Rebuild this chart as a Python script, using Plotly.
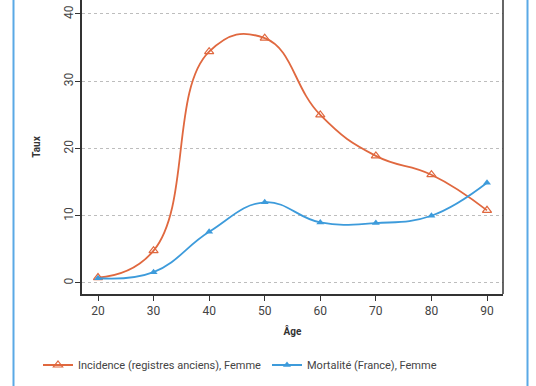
import plotly.graph_objects as go

ages = [20, 30, 40, 50, 60, 70, 80, 90]
incidence = [0.8, 4.8, 34.4, 36.4, 25.0, 18.9, 16.1, 10.8]
mortalite = [0.7, 1.6, 7.6, 12.0, 9.0, 8.9, 10.0, 14.9]
x_ticks = [20, 30, 40, 50, 60, 70, 80, 90]
y_ticks = [0, 10, 20, 30, 40]

ORANGE = "#E0683F"
BLUE = "#3D9BDB"
FONT = "Roboto"

W, H = 536, 386
L, R, B = 82, 33, 92
PW, PH = W - L - R, H - B

fig = go.Figure()
fig.add_trace(go.Scatter(
    x=ages, y=incidence, mode="lines+markers",
    name="Incidence (registres anciens), Femme", legend="legend",
    line=dict(color=ORANGE, width=1.8, shape="spline", smoothing=1.3),
    marker=dict(symbol="triangle-up-open", size=8, color=ORANGE, line=dict(width=1.2)),
))
fig.add_trace(go.Scatter(
    x=ages, y=mortalite, mode="lines+markers",
    name="Mortalité (France), Femme", legend="legend2",
    line=dict(color=BLUE, width=1.8, shape="spline", smoothing=1.2),
    marker=dict(symbol="triangle-up", size=7, color=BLUE),
))

leg_common = dict(orientation="h", yanchor="middle", y=-(365 - PH) / PH, xanchor="left",
                  font=dict(size=11, color="#444444"), bgcolor="rgba(0,0,0,0)")

fig.update_layout(
    width=W, height=H,
    margin=dict(l=L, r=R, t=0, b=B, autoexpand=False),
    paper_bgcolor="white", plot_bgcolor="white",
    font=dict(family=FONT, color="#333333", size=11),
    showlegend=True,
    legend=dict(x=(38 - L) / PW, **leg_common),
    legend2=dict(x=(267 - L) / PW, **leg_common),
    xaxis=dict(range=[17.12, 92.88], tickvals=x_ticks, ticks="outside", ticklen=5,
               tickcolor="#333333", showline=True, linecolor="#333333", linewidth=1.5,
               showgrid=False, zeroline=False, tickfont=dict(size=12, color="#444444"),
               title=dict(text="<b>Âge</b>", font=dict(size=10, color="#333333"), standoff=11)),
    yaxis=dict(range=[-1.64, 42.08], tickvals=y_ticks, ticks="outside", ticklen=5,
               tickcolor="#333333", showline=True, linecolor="#333333", linewidth=1.5,
               showgrid=True, gridcolor="#BDBDBD", griddash="3px,3px", gridwidth=1,
               zeroline=False, tickangle=-90, tickfont=dict(size=12, color="#444444"),
               ticklabeloverflow="allow", ticklabelstandoff=-3,
               title=dict(text="<b>Taux</b>", font=dict(size=10, color="#333333"), standoff=20)),
)

# right frame line (top of box is out of view)
fig.add_shape(type="line", xref="x domain", yref="y domain", x0=1, x1=1, y0=0, y1=1,
              line=dict(color="#333333", width=1.5))
# outer blue container borders
for px in [13.5, 527.5]:
    fig.add_shape(type="line", xref="paper", yref="paper",
                  x0=(px - L) / PW, x1=(px - L) / PW, y0=-B / PH, y1=1,
                  line=dict(color="#5AA9E6", width=2))

fig.write_html("out.html", config={"displayModeBar": False},
               post_script="document.body.style.margin='0';")
